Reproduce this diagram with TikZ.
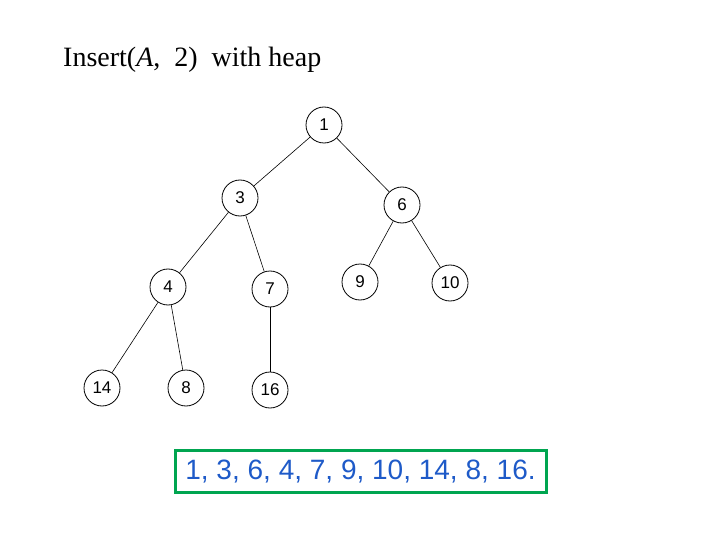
\documentclass[tikz,border=0pt]{standalone}
\usepackage{fontspec}
\setmainfont{Liberation Serif}
\newfontfamily\arialf{Liberation Sans}
\definecolor{boxgreen}{RGB}{0,165,80}
\definecolor{txtblue}{RGB}{30,90,200}
\begin{document}
\begin{tikzpicture}[x=1pt,y=-1pt,
  hnode/.style={circle,draw,line width=0.8pt,minimum size=36pt,inner sep=0pt,font=\arialf\fontsize{17}{19}\selectfont},
  edge/.style={line width=0.6pt}]
\useasboundingbox (0,0) rectangle (720,540);
\node[anchor=base west,inner sep=0pt,font=\fontsize{28}{32}\selectfont] (title) at (63,67) {Insert(\textit{A},\ \ 2)\ \ with heap};
\node[hnode] (n1) at (324,125) {1};
\node[hnode] (n3) at (240,198) {3};
\node[hnode] (n6) at (402,205) {6};
\node[hnode] (n4) at (168,287) {4};
\node[hnode] (n7) at (270,289) {7};
\node[hnode] (n9) at (360,282) {9};
\node[hnode] (n10) at (450,283) {10};
\node[hnode] (n14) at (102,388) {14};
\node[hnode] (n8) at (186,388) {8};
\node[hnode] (n16) at (270,390) {16};
\draw[edge] (n1) -- (n3);
\draw[edge] (n1) -- (n6);
\draw[edge] (n3) -- (n4);
\draw[edge] (n3) -- (n7);
\draw[edge] (n6) -- (n9);
\draw[edge] (n6) -- (n10);
\draw[edge] (n4) -- (n14);
\draw[edge] (n4) -- (n8);
\draw[edge] (n7) -- (n16);
\node[draw=boxgreen,line width=3pt,minimum width=371pt,minimum height=42pt,inner sep=0pt,text=txtblue,font=\arialf\fontsize{28}{30}\selectfont] (arr) at (360.5,471.5) {1, 3, 6, 4, 7, 9, 10, 14, 8, 16.};
\end{tikzpicture}
\end{document}
